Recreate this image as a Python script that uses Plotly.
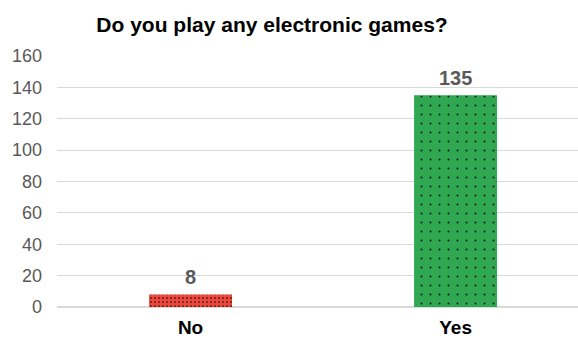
import plotly.graph_objects as go

categories = ["No", "Yes"]
values = [8, 135]
colors = ["#F0473B", "#2FA851"]
dot_sizes = [4, 9]
dot_solidity = [0.14, 0.035]
tick_vals = [0, 20, 40, 60, 80, 100, 120, 140, 160]

FONT = "Liberation Sans, Arial"

fig = go.Figure()
for i, (cat, v) in enumerate(zip(categories, values)):
    fig.add_trace(go.Bar(
        x=[i], y=[v], name=cat,
        marker=dict(
            color=colors[i],
            line=dict(width=0),
            pattern=dict(shape=".", fgcolor="#111111", bgcolor=colors[i], fgopacity=1,
                         size=dot_sizes[i], solidity=dot_solidity[i], fillmode="replace"),
        ),
        width=0.313,
    ))
    fig.add_annotation(x=i, y=v, text=f"<b>{v}</b>", showarrow=False, yanchor="bottom", yshift=4,
                       font=dict(family=FONT, size=20, color="#595959"))

fig.update_layout(
    width=578, height=338,
    margin=dict(l=57, r=0, t=56, b=31),
    paper_bgcolor="white", plot_bgcolor="white",
    showlegend=False, barmode="overlay",
    title=dict(text="<b>Do you play any electronic games?</b>", x=272 / 578, xanchor="center",
               y=1 - 25 / 338, yanchor="middle",
               font=dict(family=FONT, size=21, color="#000000")),
    xaxis=dict(range=[-0.504, 1.462], tickvals=[0, 1], ticktext=categories,
               showgrid=False, showline=False, zeroline=False, ticks="", ticklabelstandoff=7,
               tickfont=dict(family=FONT, size=19, color="#000000", weight="bold")),
    yaxis=dict(range=[0, 160], tickvals=tick_vals, showgrid=True, gridcolor="#D9D9D9", gridwidth=1,
               zeroline=True, zerolinecolor="#D9D9D9", ticks="", ticklabelstandoff=14,
               tickfont=dict(family=FONT, size=18, color="#595959")),
)
fig.write_html("out.html")
